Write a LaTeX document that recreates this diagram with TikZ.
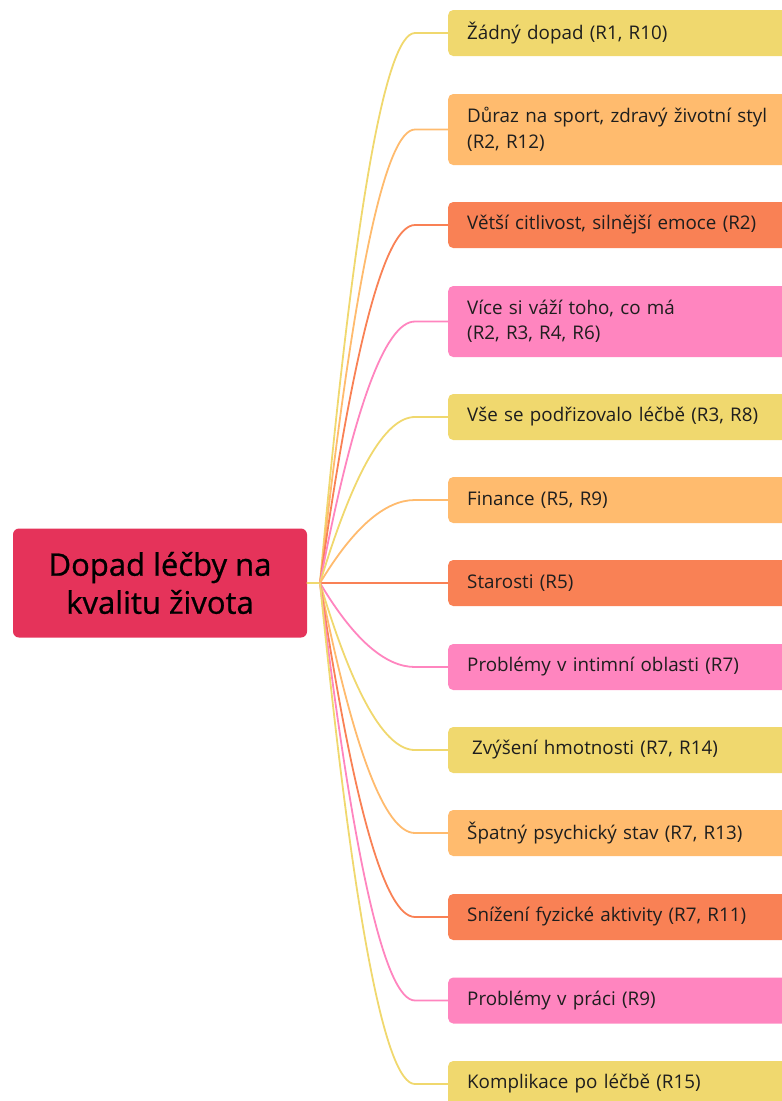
\documentclass[tikz,border=0pt]{standalone}
\usepackage{fontspec}
\setmainfont{Open Sans}
\newfontfamily\titlefont{Open Sans}[FakeBold=0.8]
\usetikzlibrary{calc}
\definecolor{cyel}{HTML}{F0D86E}
\definecolor{clor}{HTML}{FFBB6E}
\definecolor{cred}{HTML}{F98155}
\definecolor{cpnk}{HTML}{FF85BF}
\definecolor{croot}{HTML}{E5335A}
\definecolor{ctxt}{HTML}{1E1E1E}
\begin{document}
\begin{tikzpicture}[x=1pt,y=-1pt,
  rootbox/.style={fill=croot, rounded corners=6pt, minimum width=294pt,
    minimum height=109pt, align=center, inner sep=0pt,
    font=\titlefont\fontsize{31}{38}\selectfont, text=black},
  leaf/.style={anchor=west, rounded corners=5pt, minimum width=400pt,
    text width=362pt, inner xsep=19pt, inner ysep=0pt, align=left,
    font=\fontsize{18.8}{25.5}\selectfont, text=ctxt},
  one/.style={minimum height=46pt},
  two/.style={minimum height=71pt},
  link/.style={line width=1.8pt, line cap=round}]
\useasboundingbox (0,0) rectangle (782,1101);
\clip (0,0) rectangle (782,1101);

% central topic
\node[rootbox] (root) at (160,583) {Dopad léčby na\\kvalitu života};
\coordinate (hub) at (320,583);
\coordinate (cx) at (370,0);
\coordinate (ex) at (415,0);

% branches
\node[leaf,one,fill=cyel] (b1)  at (448,33)    {Žádný dopad (R1, R10)};
\node[leaf,two,fill=clor] (b2)  at (448,129.5) {Důraz na sport, zdravý životní styl\\(R2, R12)};
\node[leaf,one,fill=cred] (b3)  at (448,225)   {Větší citlivost, silnější emoce (R2)};
\node[leaf,two,fill=cpnk] (b4)  at (448,321.5) {Více si váží toho, co má\\(R2, R3, R4, R6)};
\node[leaf,one,fill=cyel] (b5)  at (448,417)   {Vše se podřizovalo léčbě (R3, R8)};
\node[leaf,one,fill=clor] (b6)  at (448,500)   {Finance (R5, R9)};
\node[leaf,one,fill=cred] (b7)  at (448,583)   {Starosti (R5)};
\node[leaf,one,fill=cpnk] (b8)  at (448,667)   {Problémy v intimní oblasti (R7)};
\node[leaf,one,fill=cyel] (b9)  at (448,750)   {\hspace*{5pt}Zvýšení hmotnosti (R7, R14)};
\node[leaf,one,fill=clor] (b10) at (448,833)   {Špatný psychický stav (R7, R13)};
\node[leaf,one,fill=cred] (b11) at (448,917)   {Snížení fyzické aktivity (R7, R11)};
\node[leaf,one,fill=cpnk] (b12) at (448,1000.5){Problémy v práci (R9)};
\node[leaf,one,fill=cyel] (b13) at (448,1084)  {Komplikace po léčbě (R15)};

% connectors
\draw[link,cyel] (root.east) -- (hub);
\draw[link,cred] (hub) -- (b7.west);
\foreach \i/\c in {1/cyel,2/clor,3/cred,4/cpnk,5/cyel,6/clor,
                   8/cpnk,9/cyel,10/clor,11/cred,12/cpnk,13/cyel} {
  \draw[link,\c] (hub)
    .. controls ($(hub)!2/3!(cx |- b\i.west)$)
       and ($(ex |- b\i.west)!2/3!(cx |- b\i.west)$)
    .. (ex |- b\i.west) -- (b\i.west);
}
\end{tikzpicture}
\end{document}
